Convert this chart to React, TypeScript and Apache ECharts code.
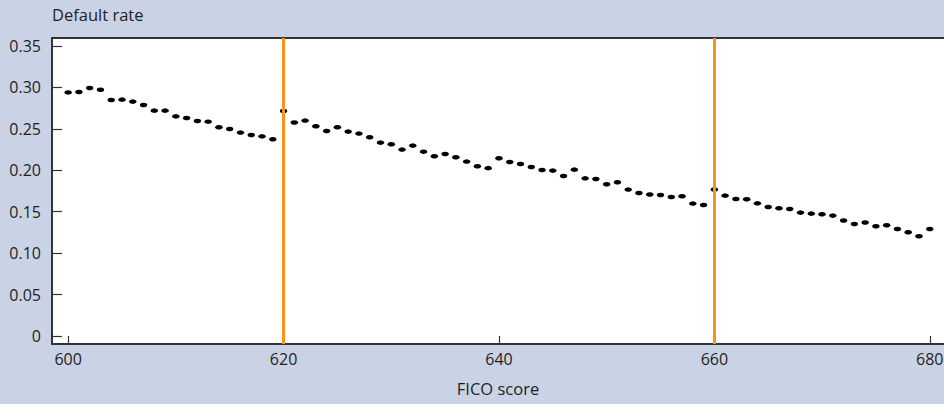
import React, { useEffect, useRef } from "react";
import * as echarts from "echarts";

const ficoScores = [
  600, 601, 602, 603, 604, 605, 606, 607, 608, 609,
  610, 611, 612, 613, 614, 615, 616, 617, 618, 619,
  620, 621, 622, 623, 624, 625, 626, 627, 628, 629,
  630, 631, 632, 633, 634, 635, 636, 637, 638, 639,
  640, 641, 642, 643, 644, 645, 646, 647, 648, 649,
  650, 651, 652, 653, 654, 655, 656, 657, 658, 659,
  660, 661, 662, 663, 664, 665, 666, 667, 668, 669,
  670, 671, 672, 673, 674, 675, 676, 677, 678, 679,
  680,
];

const defaultRates = [
  0.294, 0.2945, 0.2993, 0.2973, 0.2848, 0.2853, 0.2829, 0.2788, 0.272, 0.272,
  0.2651, 0.2631, 0.2595, 0.2587, 0.2519, 0.2498, 0.2455, 0.2426, 0.241, 0.2374,
  0.2716, 0.2577, 0.26, 0.2531, 0.2474, 0.2519, 0.2467, 0.2443, 0.2398, 0.2334,
  0.2314, 0.225, 0.2298, 0.2225, 0.2169, 0.2197, 0.2157, 0.2105, 0.2048, 0.2026,
  0.2146, 0.21, 0.2076, 0.204, 0.2003, 0.1996, 0.1931, 0.2008, 0.1903, 0.1895,
  0.1831, 0.1855, 0.1767, 0.1726, 0.1707, 0.1702, 0.1678, 0.1686, 0.1598, 0.1581,
  0.1768, 0.1694, 0.1653, 0.165, 0.1601, 0.1557, 0.1541, 0.1533, 0.1489, 0.1477,
  0.1469, 0.1453, 0.1393, 0.1352, 0.1369, 0.1324, 0.1336, 0.1291, 0.1252, 0.1203,
  0.1291,
];

const thresholds = [620, 660];
const xTickValues = [600, 620, 640, 660, 680];
const yTickValues = [0, 0.05, 0.1, 0.15, 0.2, 0.25, 0.3, 0.35];

const FONT = "'Open Sans', sans-serif";
const TEXT = "#231f20";
const AXIS = "#333333";

// the plot runs off the right edge like the reference
const X_MIN = 598.5;
const X_MAX = 683.18;

export default function App() {
  const ref = useRef<HTMLDivElement>(null);

  useEffect(() => {
    if (!ref.current) return;
    const chart = echarts.init(ref.current, null, { renderer: "svg" });
    const data = ficoScores.map((s, i) => [s, defaultRates[i]]);
    chart.setOption({
      animation: false,
      backgroundColor: "#cad3e6",
      title: {
        text: "Default rate",
        left: 52,
        top: 6,
        padding: 0,
        textStyle: { fontFamily: FONT, fontSize: 16.5, fontWeight: "normal", color: TEXT },
      },
      grid: {
        left: 52,
        top: 38,
        bottom: 60,
        right: -20,
        outerBoundsMode: "none",
        containLabel: false,
        show: true,
        backgroundColor: "#ffffff",
        borderWidth: 0,
        borderColor: "transparent",
      },
      xAxis: [
        {
          type: "value",
          min: X_MIN,
          max: X_MAX,
          position: "bottom",
          axisLine: { show: true, onZero: false, lineStyle: { color: AXIS, width: 2 } },
          axisTick: {
            show: true,
            inside: true,
            length: 8,
            customValues: xTickValues,
            lineStyle: { color: AXIS, width: 1.2 },
          },
          axisLabel: {
            show: true,
            margin: 7,
            customValues: xTickValues,
            fontFamily: FONT,
            fontSize: 16,
            color: TEXT,
          },
          splitLine: { show: false },
        },
        {
          type: "value",
          min: X_MIN,
          max: X_MAX,
          position: "top",
          axisLine: { show: true, onZero: false, lineStyle: { color: AXIS, width: 2 } },
          axisTick: { show: false },
          axisLabel: { show: false },
          splitLine: { show: false },
        },
      ],
      yAxis: {
        type: "value",
        min: -0.0097,
        max: 0.3597,
        axisLine: { show: true, onZero: false, lineStyle: { color: AXIS, width: 2 } },
        axisTick: {
          show: true,
          inside: true,
          length: 10,
          customValues: yTickValues,
          lineStyle: { color: AXIS, width: 1.2 },
        },
        axisLabel: {
          show: true,
          margin: 11,
          customValues: yTickValues,
          fontFamily: FONT,
          fontSize: 16,
          color: TEXT,
          formatter: (v: number) => (v === 0 ? "0" : v.toFixed(2)),
        },
        splitLine: { show: false },
      },
      graphic: [
        {
          type: "text",
          x: 498,
          y: 380,
          style: {
            text: "FICO score",
            font: "16.5px 'Open Sans', sans-serif",
            fill: TEXT,
            align: "center",
            verticalAlign: "top",
          },
        },
      ],
      series: [
        {
          type: "scatter",
          xAxisIndex: 0,
          data,
          symbol: "circle",
          symbolSize: [7.5, 4.5],
          itemStyle: { color: "#000000", opacity: 1 },
          markLine: {
            silent: true,
            symbol: ["none", "none"],
            label: { show: false },
            lineStyle: { color: "#f7941d", width: 3, type: "solid", opacity: 1 },
            data: thresholds.map((t) => ({ xAxis: t })),
          },
          z: 3,
        },
      ],
    });
    return () => chart.dispose();
  }, []);

  return (
    <div
      ref={ref}
      style={{ position: "absolute", left: 0, top: 0, width: 944, height: 404 }}
    />
  );
}
